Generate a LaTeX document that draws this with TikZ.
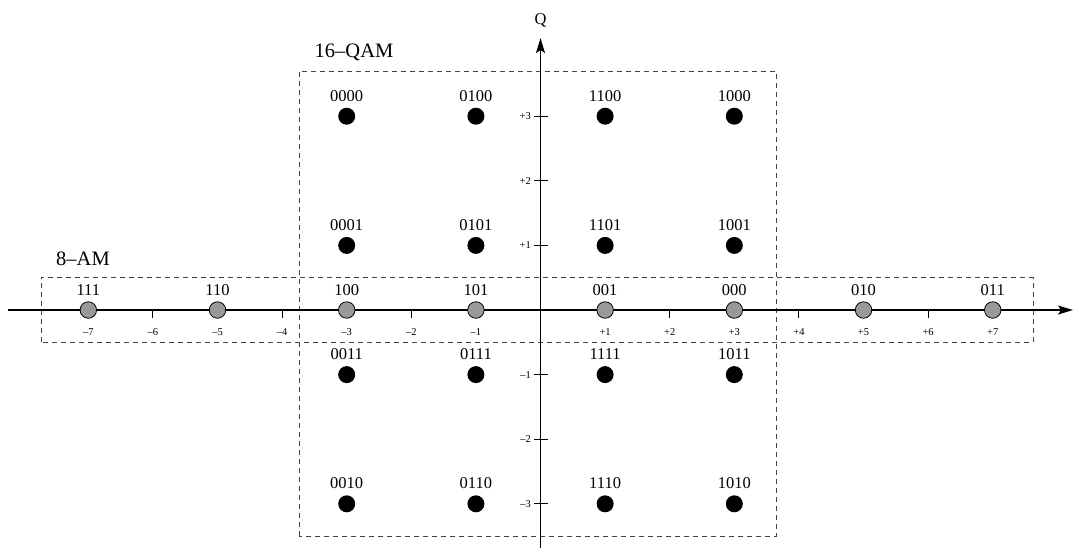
\documentclass[tikz,border=0pt]{standalone}
\usepackage{fontspec}
\setmainfont{Liberation Serif}
\usetikzlibrary{arrows.meta}
\definecolor{boxgray}{HTML}{444444}
\definecolor{ptgray}{HTML}{999999}
\tikzset{
  axisline/.style={line width=1.3pt,-{Stealth[length=15pt,width=9pt,inset=3pt]}},
  grpbox/.style={draw=boxgray,line width=0.9pt,dash pattern=on 5pt off 4pt},
  qamdot/.style={circle,fill=black,inner sep=0pt,minimum size=17pt},
  amdot/.style={circle,fill=ptgray,draw=black,line width=0.8pt,inner sep=0pt,minimum size=16.5pt},
  ptlabel/.style={anchor=base,inner sep=0pt,font=\fontsize{16.5}{18}\selectfont},
  grplabel/.style={inner sep=0pt,font=\fontsize{20.5}{22}\selectfont},
  ticklabel/.style={inner sep=0pt,font=\fontsize{10.5}{12}\selectfont},
  tickmark/.style={line width=1pt}
}
\begin{document}
\begin{tikzpicture}[x=64.6pt,y=64.6pt]
\useasboundingbox (-8.367,-3.684) rectangle (8.320,4.799);
% group boxes
\draw[grpbox] (-3.738,-3.5) rectangle (3.646,3.70);
\draw[grpbox] (-7.732,-0.5) rectangle (7.624,0.5);
% axes
\coordinate (xl) at (-8.243,0);
\coordinate (xr) at (8.243,0);
\coordinate (yb) at (0,-3.684);
\coordinate (yt) at (0,4.21);
\draw[axisline] (xl) -- (xr);
\draw[axisline] (yb) -- (yt);
\node[grplabel,font=\fontsize{16.5}{18}\selectfont] (qlab) at (0,4.49) {Q};
% group labels
\node[grplabel] (amlab) at (-7.082,0.789) {8–AM};
\node[grplabel] (qamlab) at (-2.887,3.986) {16–QAM};
% x ticks
\foreach \v in {-6,-4,-2,2,4,6}{
  \draw[tickmark] (\v,0) -- (\v,-0.124);
}
\foreach \v/\t in {-7/–7,-6/–6,-5/–5,-4/–4,-3/–3,-2/–2,-1/–1,1/+1,2/+2,3/+3,4/+4,5/+5,6/+6,7/+7}{
  \node[ticklabel,anchor=base] (xt\v) at (\v,-0.40) {\t};
}
% y ticks
\foreach \v/\t in {-3/–3,-2/–2,-1/–1,1/+1,2/+2,3/+3}{
  \draw[tickmark] (-0.10,\v) -- (0.116,\v);
  \node[ticklabel,anchor=east] (yt\v) at (-0.147,\v) {\t};
}
% 16-QAM points
\foreach \x/\y/\lab in {-3/3/0000,-1/3/0100,1/3/1100,3/3/1000,
                        -3/1/0001,-1/1/0101,1/1/1101,3/1/1001,
                        -3/-1/0011,-1/-1/0111,1/-1/1111,3/-1/1011,
                        -3/-3/0010,-1/-3/0110,1/-3/1110,3/-3/1010}{
  \node[qamdot] (q\lab) at (\x,\y) {};
  \node[ptlabel] (lq\lab) at (\x,\y+0.232) {\lab};
}
% 8-AM points
\foreach \x/\lab in {-7/111,-5/110,-3/100,-1/101,1/001,3/000,5/010,7/011}{
  \node[amdot] (a\lab) at (\x,0) {};
  \node[ptlabel] (la\lab) at (\x,0.232) {\lab};
}
\end{tikzpicture}
\end{document}
